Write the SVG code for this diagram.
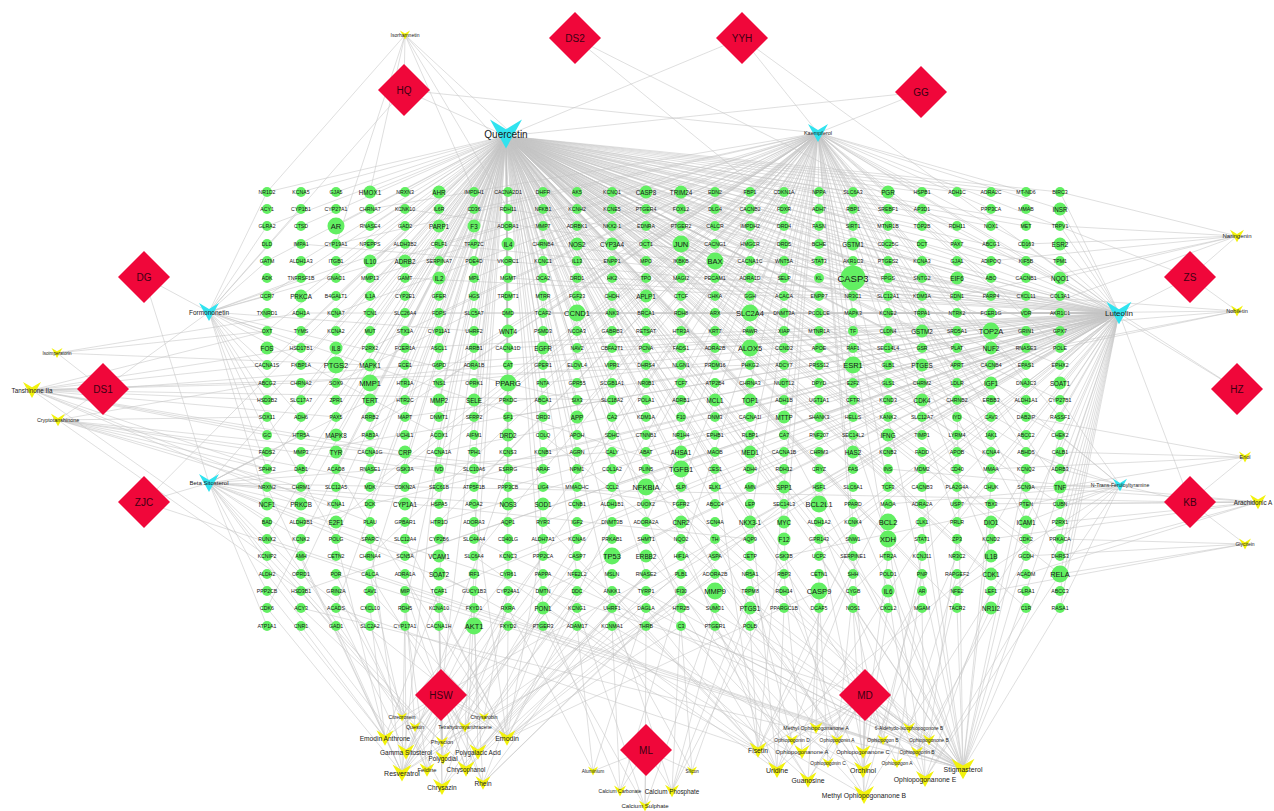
<svg xmlns="http://www.w3.org/2000/svg" xmlns:xlink="http://www.w3.org/1999/xlink" width="1274" height="811" viewBox="0 0 1274 811">
<style>
text{font-family:"Liberation Sans",Arial,sans-serif;text-anchor:middle;dominant-baseline:central}
.gn circle{fill:#62ef62}
.gn text{font-size:5.2px;fill:#161616}
.gn .m text{font-size:6.3px}
.gn .l text{font-size:7.5px}
.gn .xl text{font-size:9.5px}
.cy{fill:#30e3ef}
.yw{fill:#f2f20c}
.cy text,.yw text{fill:#1a1a1a}
.hb{fill:#f0073a}
.hb text{fill:#3d0012;font-size:10px}
.e{stroke:#c4c4c4;stroke-width:.55;fill:none}
</style>
<defs>
<path id="v" d="M-10 -9L0 -3L10 -9L0 9Z"/>
<polygon id="dm" points="0,-26 26,0 0,26 -26,0"/>
</defs>
<rect width="1274" height="811" fill="#ffffff"/>
<g id="connectors">
<path class="e" d="M506 136L267 192M506 136L336 192M506 136L405 192M506 136L474 192M506 136L543 192M506 136L612 192M506 136L681 192M506 136L750 192M506 136L819 192M506 136L888 192M506 136L957 192M506 136L1026 192M506 136L267 261M506 136L336 261M506 136L405 261M506 136L474 261M506 136L543 261M506 136L612 261M506 136L681 261M506 136L750 261M506 136L819 261M506 136L888 261M506 136L957 261M506 136L1026 261M506 136L267 331M506 136L336 331M506 136L405 331M506 136L474 331M506 136L543 331M506 136L612 331M506 136L681 331M506 136L750 331M506 136L819 331M506 136L888 331M506 136L957 331M506 136L1026 331M506 136L267 400M506 136L336 400M506 136L405 400M506 136L474 400M506 136L543 400M506 136L612 400M506 136L681 400M506 136L750 400M506 136L819 400M506 136L888 400M506 136L957 400M506 136L1026 400M506 136L267 469M506 136L336 469M506 136L405 469M506 136L474 469M506 136L543 469M506 136L612 469M506 136L681 469M506 136L750 469M506 136L819 469M506 136L888 469M506 136L957 469M506 136L1026 469M506 136L267 539M506 136L336 539M506 136L405 539M506 136L474 539M506 136L543 539M506 136L612 539M506 136L681 539M506 136L750 539M506 136L819 539M506 136L888 539M506 136L957 539M506 136L1026 539M506 136L267 608M506 136L336 608M506 136L405 608M506 136L474 608M506 136L543 608M506 136L612 608M506 136L681 608M506 136L750 608M506 136L819 608M506 136L888 608M506 136L957 608M506 136L1026 608"/>
<path class="e" d="M506 136L301 226M506 136L370 226M506 136L439 226M506 136L508 226M506 136L577 226M506 136L646 226M506 136L715 226M506 136L784 226M506 136L853 226M506 136L922 226M506 136L991 226M506 136L1060 226M506 136L301 296M506 136L370 296M506 136L439 296M506 136L508 296M506 136L577 296M506 136L646 296M506 136L715 296M506 136L784 296M506 136L853 296M506 136L922 296M506 136L991 296M506 136L1060 296M506 136L301 365M506 136L370 365M506 136L439 365M506 136L508 365M506 136L577 365M506 136L646 365M506 136L715 365M506 136L784 365M506 136L853 365M506 136L922 365M506 136L991 365M506 136L1060 365M506 136L301 435M506 136L370 435M506 136L439 435M506 136L508 435M506 136L577 435M506 136L646 435M506 136L715 435M506 136L784 435M506 136L853 435M506 136L922 435M506 136L991 435M506 136L1060 435M506 136L301 504M506 136L370 504M506 136L439 504M506 136L508 504M506 136L577 504M506 136L646 504M506 136L715 504M506 136L784 504M506 136L853 504M506 136L922 504M506 136L991 504M506 136L1060 504M506 136L301 574M506 136L370 574M506 136L439 574M506 136L508 574M506 136L577 574M506 136L646 574M506 136L715 574M506 136L784 574M506 136L853 574M506 136L922 574M506 136L991 574M506 136L1060 574"/>
<path class="e" d="M506 136L301 192M506 136L370 192M506 136L439 192M506 136L508 192M506 136L577 192M506 136L646 192M506 136L715 192M506 136L784 192M506 136L853 192M506 136L922 192M506 136L991 192M506 136L1060 192M506 136L301 261M506 136L370 261M506 136L439 261M506 136L508 261M506 136L577 261M506 136L646 261M506 136L715 261M506 136L784 261M506 136L853 261M506 136L922 261M506 136L991 261M506 136L1060 261M506 136L301 331M506 136L370 331M506 136L439 331M506 136L508 331M506 136L577 331M506 136L646 331M506 136L715 331M506 136L784 331M506 136L853 331M506 136L922 331M506 136L991 331M506 136L1060 331M506 136L301 400M506 136L370 400M506 136L439 400M506 136L508 400M506 136L577 400M506 136L646 400M506 136L715 400M506 136L784 400M506 136L853 400M506 136L922 400M506 136L991 400M506 136L1060 400M506 136L301 469M506 136L370 469M506 136L439 469M506 136L508 469M506 136L577 469M506 136L646 469M506 136L715 469M506 136L784 469M506 136L853 469M506 136L922 469M506 136L991 469M506 136L1060 469M506 136L267 226M506 136L336 226M506 136L405 226M506 136L474 226M506 136L543 226M506 136L612 226M506 136L681 226M506 136L750 226M506 136L819 226M506 136L888 226M506 136L957 226M506 136L1026 226M506 136L267 296M506 136L336 296M506 136L405 296M506 136L474 296M506 136L543 296M506 136L612 296M506 136L681 296M506 136L750 296M506 136L819 296M506 136L888 296M506 136L957 296M506 136L1026 296M506 136L267 365M506 136L336 365M506 136L405 365M506 136L474 365M506 136L543 365M506 136L612 365M506 136L681 365M506 136L750 365M506 136L819 365M506 136L888 365M506 136L957 365M506 136L1026 365M506 136L267 435M506 136L336 435M506 136L405 435M506 136L474 435M506 136L543 435M506 136L612 435M506 136L681 435M506 136L750 435M506 136L819 435M506 136L888 435M506 136L957 435M506 136L1026 435"/>
<path class="e" d="M818 133L370 209M818 133L474 209M818 133L577 209M818 133L681 209M818 133L784 209M818 133L888 209M818 133L991 209M818 133L1060 209M818 133L370 278M818 133L474 278M818 133L577 278M818 133L681 278M818 133L784 278M818 133L888 278M818 133L991 278M818 133L1060 278M818 133L370 348M818 133L474 348M818 133L577 348M818 133L681 348M818 133L784 348M818 133L888 348M818 133L991 348M818 133L1060 348M818 133L370 417M818 133L474 417M818 133L577 417M818 133L681 417M818 133L784 417M818 133L888 417M818 133L991 417M818 133L1060 417M818 133L370 487M818 133L474 487M818 133L577 487M818 133L681 487M818 133L784 487M818 133L888 487M818 133L991 487M818 133L1060 487M818 133L370 556M818 133L474 556M818 133L577 556M818 133L681 556M818 133L784 556M818 133L888 556M818 133L991 556M818 133L1060 556M818 133L750 192M818 133L853 192M818 133L922 192M818 133L1026 192M818 133L715 226M818 133L819 244M818 133L957 244"/>
<path class="e" d="M818 133L336 244M818 133L439 244M818 133L543 244M818 133L646 244M818 133L750 244M818 133L853 244M818 133L1026 244M818 133L336 313M818 133L439 313M818 133L543 313M818 133L646 313M818 133L750 313M818 133L853 313M818 133L957 313M818 133L1026 313M818 133L336 383M818 133L439 383M818 133L543 383M818 133L646 383M818 133L750 383M818 133L853 383M818 133L957 383M818 133L1026 383M818 133L336 452M818 133L439 452M818 133L543 452M818 133L646 452M818 133L750 452M818 133L853 452M818 133L957 452M818 133L1026 452M818 133L336 522M818 133L439 522M818 133L543 522M818 133L646 522M818 133L750 522M818 133L853 522M818 133L957 522M818 133L1026 522"/>
<path class="e" d="M1119 313L1060 192M1119 313L1060 209M1119 313L1060 226M1119 313L1060 244M1119 313L1060 261M1119 313L1060 278M1119 313L1060 296M1119 313L1060 313M1119 313L1060 331M1119 313L1060 348M1119 313L1060 365M1119 313L1060 383M1119 313L1060 400M1119 313L1060 417M1119 313L1060 435M1119 313L1060 452M1119 313L1060 469M1119 313L1060 487M1119 313L1060 504M1119 313L1060 522M1119 313L1060 539M1119 313L1060 556M1119 313L1060 574M1119 313L1060 591M1119 313L1060 608M1119 313L301 244M1119 313L439 244M1119 313L543 244M1119 313L646 244M1119 313L750 244M1119 313L853 244M1119 313L957 244M1119 313L1026 244M1119 313L301 313M1119 313L439 313M1119 313L543 313M1119 313L646 313M1119 313L750 313M1119 313L853 313M1119 313L957 313M1119 313L1026 313M1119 313L301 383M1119 313L439 383M1119 313L543 383M1119 313L646 383M1119 313L750 383M1119 313L853 383M1119 313L957 383M1119 313L1026 383M1119 313L301 452M1119 313L439 452M1119 313L543 452M1119 313L646 452M1119 313L750 452M1119 313L853 452M1119 313L957 452M1119 313L1026 452M1119 313L301 522M1119 313L439 522M1119 313L543 522M1119 313L646 522M1119 313L750 522M1119 313L853 522M1119 313L957 522M1119 313L1026 522M1119 313L301 591M1119 313L439 591M1119 313L543 591M1119 313L646 591M1119 313L750 591M1119 313L853 591M1119 313L957 591M1119 313L1026 591"/>
<path class="e" d="M1119 313L405 209M1119 313L508 209M1119 313L612 209M1119 313L715 209M1119 313L819 209M1119 313L922 209M1119 313L405 278M1119 313L508 278M1119 313L612 278M1119 313L715 278M1119 313L819 278M1119 313L922 278M1119 313L405 348M1119 313L508 348M1119 313L612 348M1119 313L715 348M1119 313L819 348M1119 313L922 348M1119 313L405 417M1119 313L508 417M1119 313L612 417M1119 313L715 417M1119 313L819 417M1119 313L922 417M1119 313L405 487M1119 313L508 487M1119 313L612 487M1119 313L715 487M1119 313L819 487M1119 313L922 487M1119 313L405 556M1119 313L508 556M1119 313L612 556M1119 313L715 556M1119 313L819 556M1119 313L922 556"/>
<path class="e" d="M209 312L267 192M209 312L267 226M209 312L267 261M209 312L267 296M209 312L267 331M209 312L267 365M209 312L267 400M209 312L267 435M209 312L267 469M209 312L267 504M209 312L301 209M209 312L301 278M209 312L301 348M209 312L301 417M209 312L405 244M209 312L474 331M209 312L577 400M209 312L681 469M209 312L336 539M209 312L439 435M209 312L508 226"/>
<path class="e" d="M209 483L267 417M209 483L267 452M209 483L267 487M209 483L267 522M209 483L267 556M209 483L267 591M209 483L267 626M209 483L301 435M209 483L301 469M209 483L301 504M209 483L301 539M209 483L301 574M209 483L301 608M209 483L405 556M209 483L508 504M209 483L612 452M209 483L370 400M209 483L474 591M209 483L750 539M209 483L336 626"/>
<path class="e" d="M1120 485L1060 400M1120 485L1060 435M1120 485L1060 469M1120 485L1060 504M1120 485L1060 539M1120 485L1060 574M1120 485L1060 608M1120 485L1026 452M1120 485L1026 487M1120 485L1026 522M1120 485L888 504M1120 485L784 556M1120 485L957 591"/>
<path class="e" d="M32 390L267 331M32 390L267 365M32 390L267 400M32 390L301 348M32 390L301 383M32 390L267 435M32 390L336 417M32 390L405 452M32 390L474 469M32 390L612 400M32 390L750 365M32 390L267 469M32 390L301 504M32 390L370 522M32 390L267 556M58 420L267 452M58 420L267 469M58 420L301 487M58 420L336 504M58 420L267 417M58 420L405 487M58 420L543 469M58 420L681 504M58 420L267 383M58 420L301 591M57 353L267 331M57 353L370 365M57 353L301 313M405 35L267 192M405 35L370 192M405 35L474 192M405 35L508 209M405 35L543 192M405 35L612 226M405 35L336 244"/>
<path class="e" d="M1237 236L1060 192M1237 236L1060 226M1237 236L1026 244M1237 236L991 261M1237 236L1060 278M1237 236L957 296M1237 236L1026 313M1237 311L1060 313M1237 311L1060 348M1237 311L1026 296M1237 311L991 331M1237 311L957 365M1245 457L1060 452M1245 457L1060 487M1245 457L1026 417M1245 457L991 469M1258 502L1060 504M1258 502L1060 522M1258 502L1026 487M1258 502L991 539M1258 502L957 504M1258 502L1060 556M1258 502L1026 574M1258 502L888 469M1245 544L1060 539M1245 544L1060 574M1245 544L1026 556M1245 544L991 591"/>
<path class="e" d="M963 769L957 608M963 769L1026 591M963 769L888 574M963 769L819 556M963 769L1060 539M963 769L750 608M963 769L681 591M963 769L612 574M963 769L991 487M963 769L853 504M963 769L922 522M963 769L715 522M963 769L1026 469M963 769L543 556M963 769L784 435M963 769L646 469M963 769L888 417M963 769L957 400M963 769L1060 435M963 769L474 539M963 769L405 591M963 769L301 608M963 769L336 574M963 769L267 539M963 769L1060 608M963 769L750 626M963 769L681 626M963 769L991 522M963 769L1026 504M963 769L922 469M963 769L853 435M963 769L819 487M963 769L715 400M963 769L612 452M963 769L543 435M864 795L853 608M864 795L750 591M864 795L922 574M864 795L646 556M864 795L1026 539M864 795L543 608M863 770L888 608M863 770L784 591M863 770L715 574M863 770L957 556M863 770L612 626M863 770L681 522M777 770L784 608M777 770L681 608M777 770L612 591M777 770L853 574M777 770L474 556M777 770L750 504M777 770L681 539M777 770L543 522M777 770L922 539M808 780L819 608M808 780L715 626M808 780L577 574M808 780L922 591M808 780L646 539M758 750L750 626M758 750L646 608M758 750L543 591M758 750L439 574M758 750L853 539M758 750L715 469M758 750L336 608M758 750L991 556M758 750L784 487M758 750L888 504M925 779L922 608M925 779L1060 574M925 779L991 591M925 779L888 539M925 779L819 522M925 779L1026 608M816 728L819 574M816 728L715 591M909 728L888 591M909 728L957 574M792 740L750 574M792 740L681 556M837 740L853 591M837 740L784 556M883 740L922 556M883 740L853 608M929 740L991 608M929 740L957 539M802 752L784 574M802 752L646 591M863 752L888 556M863 752L819 539M917 752L957 591M917 752L1026 556M828 763L819 591M897 763L922 574"/>
<path class="e" d="M507 738L508 626M507 738L577 608M507 738L646 591M507 738L439 608M507 738L715 574M507 738L543 539M507 738L612 522M507 738L370 591M507 738L301 574M507 738L784 504M507 738L681 626M507 738L405 539M507 738L474 504M507 738L819 591M507 738L336 469M402 773L405 608M402 773L336 626M402 773L267 608M402 773L474 626M402 773L543 574M402 773L301 556M402 773L612 539M402 773L681 574M402 773L750 556M402 773L370 539M402 773L267 487M402 773L439 435M402 773L508 469M402 773L577 504M442 787L439 626M442 787L508 608M442 787L577 591M442 787L336 591M442 787L646 574M483 783L474 626M483 783L543 626M483 783L612 608M483 783L681 591M483 783L405 574M483 783L715 556M385 738L370 608M385 738L267 591M385 738L301 626M385 738L439 591M385 738L508 574M385 738L336 539M406 752L405 626M406 752L267 574M406 752L336 608M406 752L474 608M406 752L543 591M478 752L474 591M478 752L577 626M478 752L612 591M478 752L370 574M478 752L681 539M443 758L439 608M443 758L508 591M443 758L301 591M443 758L577 556M466 769L474 608M466 769L543 608M466 769L405 591M466 769L646 574M466 769L715 539M466 769L267 556M427 770L405 608M427 770L370 626M427 770L508 626M427 770L336 574M442 742L439 591M442 742L577 574M442 742L301 608M442 742L681 608M415 727L405 591M415 727L543 556M402 717L370 574M402 717L267 522M484 717L508 591M484 717L612 556M465 727L474 574M465 727L577 539"/>
<path class="e" d="M593 771L577 626M593 771L508 608M593 771L646 608M692 771L681 626M692 771L750 608M692 771L612 626M620 791L612 626M620 791L543 608M620 791L681 591M672 791L681 608M672 791L715 626M672 791L750 591M672 791L612 608M672 791L784 574M645 807L646 626M645 807L577 608M645 807L715 608M645 807L543 626"/>
<path class="e" d="M404 90L506 136M404 90L818 133M404 90L405 35M404 90L209 312M575 38L1119 313M575 38L1120 485M742 38L506 136M742 38L818 133M742 38L1119 313M921 92L818 133M921 92L506 136M144 277L209 483M144 277L209 312M103 389L32 390M103 389L58 420M103 389L57 353M103 389L1119 313M103 389L209 312M144 502L209 483M144 502L506 136M144 502L963 769M1190 277L1237 236M1190 277L1237 311M1190 277L1119 313M1190 277L818 133M1237 389L1119 313M1237 389L818 133M1190 502L1120 485M1190 502L1245 457M1190 502L1258 502M1190 502L1245 544M1190 502L1119 313M1190 502L209 483"/>
<path class="e" d="M441 695L402 717M441 695L484 717M441 695L415 727M441 695L465 727M441 695L385 738M441 695L442 742M441 695L507 738M441 695L406 752M441 695L478 752M441 695L443 758M441 695L402 773M441 695L427 770M441 695L466 769M441 695L442 787M441 695L483 783M441 695L506 136M441 695L1119 313M646 750L593 771M646 750L692 771M646 750L620 791M646 750L672 791M646 750L645 807M865 695L816 728M865 695L909 728M865 695L792 740M865 695L837 740M865 695L883 740M865 695L929 740M865 695L758 750M865 695L802 752M865 695L863 752M865 695L917 752M865 695L828 763M865 695L897 763M865 695L777 770M865 695L863 770M865 695L963 769M865 695L808 780M865 695L925 779M865 695L864 795M865 695L506 136M865 695L818 133M865 695L209 483"/>
</g>
<g id="genes" class="gn">
<g id="r0c0" transform="translate(267 192)"><circle r="5"/><text>NR1D2</text></g>
<g id="r0c1" transform="translate(301 192)"><circle r="5"/><text>KCNA5</text></g>
<g id="r0c2" transform="translate(336 192)"><circle r="5"/><text>GJA5</text></g>
<g id="r0c3" class="m" transform="translate(370 192)"><circle r="6.5"/><text>HMOX1</text></g>
<g id="r0c4" transform="translate(405 192)"><circle r="5"/><text>NRXN3</text></g>
<g id="r0c5" class="m" transform="translate(439 192)"><circle r="6.5"/><text>AHR</text></g>
<g id="r0c6" transform="translate(474 192)"><circle r="5"/><text>IMPDH1</text></g>
<g id="r0c7" transform="translate(508 192)"><circle r="5"/><text>CACNA2D1</text></g>
<g id="r0c8" transform="translate(543 192)"><circle r="5"/><text>DHFR</text></g>
<g id="r0c9" transform="translate(577 192)"><circle r="5"/><text>AK5</text></g>
<g id="r0c10" transform="translate(612 192)"><circle r="5"/><text>KCNQ1</text></g>
<g id="r0c11" class="m" transform="translate(646 192)"><circle r="6.5"/><text>CASP8</text></g>
<g id="r0c12" class="m" transform="translate(681 192)"><circle r="6.5"/><text>TRIM24</text></g>
<g id="r0c13" transform="translate(715 192)"><circle r="5"/><text>EDN2</text></g>
<g id="r0c14" transform="translate(750 192)"><circle r="5"/><text>FBP1</text></g>
<g id="r0c15" transform="translate(784 192)"><circle r="5"/><text>CDKN1A</text></g>
<g id="r0c16" transform="translate(819 192)"><circle r="5"/><text>NPPA</text></g>
<g id="r0c17" transform="translate(853 192)"><circle r="5"/><text>SLC6A3</text></g>
<g id="r0c18" class="m" transform="translate(888 192)"><circle r="6.5"/><text>PGR</text></g>
<g id="r0c19" transform="translate(922 192)"><circle r="5"/><text>HSPB1</text></g>
<g id="r0c20" transform="translate(957 192)"><circle r="5"/><text>ADH1C</text></g>
<g id="r0c21" transform="translate(991 192)"><circle r="5"/><text>ADRA2C</text></g>
<g id="r0c22" transform="translate(1026 192)"><circle r="5"/><text>MT-ND6</text></g>
<g id="r0c23" transform="translate(1060 192)"><circle r="5"/><text>BIRC3</text></g>
<g id="r1c0" transform="translate(267 209)"><circle r="5"/><text>ACY1</text></g>
<g id="r1c1" transform="translate(301 209)"><circle r="5"/><text>CYP1B1</text></g>
<g id="r1c2" transform="translate(336 209)"><circle r="5"/><text>CYP27A1</text></g>
<g id="r1c3" transform="translate(370 209)"><circle r="5"/><text>CHRNA7</text></g>
<g id="r1c4" transform="translate(405 209)"><circle r="5"/><text>KCNK10</text></g>
<g id="r1c5" transform="translate(439 209)"><circle r="5"/><text>IL6R</text></g>
<g id="r1c6" transform="translate(474 209)"><circle r="5"/><text>CD36</text></g>
<g id="r1c7" transform="translate(508 209)"><circle r="5"/><text>RDH11</text></g>
<g id="r1c8" transform="translate(543 209)"><circle r="5"/><text>NFKB1</text></g>
<g id="r1c9" transform="translate(577 209)"><circle r="5"/><text>KCNH2</text></g>
<g id="r1c10" transform="translate(612 209)"><circle r="5"/><text>KCNE5</text></g>
<g id="r1c11" transform="translate(646 209)"><circle r="5"/><text>PTGER4</text></g>
<g id="r1c12" transform="translate(681 209)"><circle r="5"/><text>FOXL2</text></g>
<g id="r1c13" transform="translate(715 209)"><circle r="5"/><text>DLG4</text></g>
<g id="r1c14" transform="translate(750 209)"><circle r="5"/><text>CACNB2</text></g>
<g id="r1c15" transform="translate(784 209)"><circle r="5"/><text>FDXR</text></g>
<g id="r1c16" transform="translate(819 209)"><circle r="5"/><text>ADH7</text></g>
<g id="r1c17" transform="translate(853 209)"><circle r="5"/><text>RBP1</text></g>
<g id="r1c18" transform="translate(888 209)"><circle r="5"/><text>SREBF1</text></g>
<g id="r1c19" transform="translate(922 209)"><circle r="5"/><text>AP3D1</text></g>
<g id="r1c21" transform="translate(991 209)"><circle r="5"/><text>PPP3CA</text></g>
<g id="r1c22" transform="translate(1026 209)"><circle r="5"/><text>MMAB</text></g>
<g id="r1c23" class="m" transform="translate(1060 209)"><circle r="6.5"/><text>INSR</text></g>
<g id="r2c0" transform="translate(267 226)"><circle r="5"/><text>GLRA2</text></g>
<g id="r2c1" transform="translate(301 226)"><circle r="5"/><text>CTSD</text></g>
<g id="r2c2" class="l" transform="translate(336 226)"><circle r="8.5"/><text>AR</text></g>
<g id="r2c3" transform="translate(370 226)"><circle r="5"/><text>RNASE4</text></g>
<g id="r2c4" transform="translate(405 226)"><circle r="5"/><text>GAD2</text></g>
<g id="r2c5" class="m" transform="translate(439 226)"><circle r="6.5"/><text>PARP1</text></g>
<g id="r2c6" class="m" transform="translate(474 226)"><circle r="6.5"/><text>F3</text></g>
<g id="r2c7" transform="translate(508 226)"><circle r="5"/><text>ADORA1</text></g>
<g id="r2c8" transform="translate(543 226)"><circle r="5"/><text>MMP7</text></g>
<g id="r2c9" transform="translate(577 226)"><circle r="5"/><text>ADRBK1</text></g>
<g id="r2c10" transform="translate(612 226)"><circle r="5"/><text>NKX2-1</text></g>
<g id="r2c11" transform="translate(646 226)"><circle r="5"/><text>EDNRA</text></g>
<g id="r2c12" transform="translate(681 226)"><circle r="5"/><text>PTGER2</text></g>
<g id="r2c13" transform="translate(715 226)"><circle r="5"/><text>CALCR</text></g>
<g id="r2c14" transform="translate(750 226)"><circle r="5"/><text>IMPDH2</text></g>
<g id="r2c15" transform="translate(784 226)"><circle r="5"/><text>DRD4</text></g>
<g id="r2c16" transform="translate(819 226)"><circle r="5"/><text>FASN</text></g>
<g id="r2c17" transform="translate(853 226)"><circle r="5"/><text>SIRT1</text></g>
<g id="r2c18" transform="translate(888 226)"><circle r="5"/><text>MTNR1B</text></g>
<g id="r2c19" transform="translate(922 226)"><circle r="5"/><text>TOP2B</text></g>
<g id="r2c20" transform="translate(957 226)"><circle r="5"/><text>RDH11</text></g>
<g id="r2c21" transform="translate(991 226)"><circle r="5"/><text>NOX1</text></g>
<g id="r2c22" transform="translate(1026 226)"><circle r="5"/><text>MET</text></g>
<g id="r2c23" transform="translate(1060 226)"><circle r="5"/><text>TRPV1</text></g>
<g id="r3c0" transform="translate(267 244)"><circle r="5"/><text>DLD</text></g>
<g id="r3c1" transform="translate(301 244)"><circle r="5"/><text>IMPA1</text></g>
<g id="r3c2" transform="translate(336 244)"><circle r="5"/><text>CYP19A1</text></g>
<g id="r3c3" transform="translate(370 244)"><circle r="5"/><text>NPEPPS</text></g>
<g id="r3c4" transform="translate(405 244)"><circle r="5"/><text>ALDH3B2</text></g>
<g id="r3c5" transform="translate(439 244)"><circle r="5"/><text>CRLF1</text></g>
<g id="r3c6" transform="translate(474 244)"><circle r="5"/><text>TFAP2C</text></g>
<g id="r3c7" class="m" transform="translate(508 244)"><circle r="6.5"/><text>IL4</text></g>
<g id="r3c8" transform="translate(543 244)"><circle r="5"/><text>CHRNB4</text></g>
<g id="r3c9" class="m" transform="translate(577 244)"><circle r="6.5"/><text>NOS2</text></g>
<g id="r3c10" class="m" transform="translate(612 244)"><circle r="6.5"/><text>CYP3A4</text></g>
<g id="r3c11" transform="translate(646 244)"><circle r="5"/><text>OCT1</text></g>
<g id="r3c12" class="l" transform="translate(681 244)"><circle r="8.5"/><text>JUN</text></g>
<g id="r3c13" transform="translate(715 244)"><circle r="5"/><text>CACNG1</text></g>
<g id="r3c14" transform="translate(750 244)"><circle r="5"/><text>HMGCR</text></g>
<g id="r3c15" transform="translate(784 244)"><circle r="5"/><text>DRD5</text></g>
<g id="r3c16" transform="translate(819 244)"><circle r="5"/><text>BCHE</text></g>
<g id="r3c17" class="m" transform="translate(853 244)"><circle r="6.5"/><text>GSTM1</text></g>
<g id="r3c18" transform="translate(888 244)"><circle r="5"/><text>CDC25C</text></g>
<g id="r3c19" transform="translate(922 244)"><circle r="5"/><text>DCT</text></g>
<g id="r3c20" transform="translate(957 244)"><circle r="5"/><text>PAX7</text></g>
<g id="r3c21" transform="translate(991 244)"><circle r="5"/><text>ABCG1</text></g>
<g id="r3c22" transform="translate(1026 244)"><circle r="5"/><text>CD163</text></g>
<g id="r3c23" class="m" transform="translate(1060 244)"><circle r="6.5"/><text>ESR2</text></g>
<g id="r4c0" transform="translate(267 261)"><circle r="5"/><text>GATM</text></g>
<g id="r4c1" transform="translate(301 261)"><circle r="5"/><text>ALDH1A3</text></g>
<g id="r4c2" transform="translate(336 261)"><circle r="5"/><text>ITGB1</text></g>
<g id="r4c3" class="m" transform="translate(370 261)"><circle r="6.5"/><text>IL10</text></g>
<g id="r4c4" class="m" transform="translate(405 261)"><circle r="6.5"/><text>ADRB2</text></g>
<g id="r4c5" transform="translate(439 261)"><circle r="5"/><text>SERPINA7</text></g>
<g id="r4c6" transform="translate(474 261)"><circle r="5"/><text>PDE4D</text></g>
<g id="r4c7" transform="translate(508 261)"><circle r="5"/><text>VKORC1</text></g>
<g id="r4c8" transform="translate(543 261)"><circle r="5"/><text>KCNC1</text></g>
<g id="r4c9" transform="translate(577 261)"><circle r="5"/><text>IL13</text></g>
<g id="r4c10" transform="translate(612 261)"><circle r="5"/><text>ENPP1</text></g>
<g id="r4c11" transform="translate(646 261)"><circle r="5"/><text>MPO</text></g>
<g id="r4c12" transform="translate(681 261)"><circle r="5"/><text>IKBKB</text></g>
<g id="r4c13" class="l" transform="translate(715 261)"><circle r="8.5"/><text>BAX</text></g>
<g id="r4c14" transform="translate(750 261)"><circle r="5"/><text>CACNA1C</text></g>
<g id="r4c15" transform="translate(784 261)"><circle r="5"/><text>WNT5A</text></g>
<g id="r4c16" transform="translate(819 261)"><circle r="5"/><text>STAT3</text></g>
<g id="r4c17" transform="translate(853 261)"><circle r="5"/><text>AKR1C3</text></g>
<g id="r4c18" transform="translate(888 261)"><circle r="5"/><text>PTGES2</text></g>
<g id="r4c19" transform="translate(922 261)"><circle r="5"/><text>KCNA3</text></g>
<g id="r4c20" transform="translate(957 261)"><circle r="5"/><text>GJA1</text></g>
<g id="r4c21" transform="translate(991 261)"><circle r="5"/><text>ADIPOQ</text></g>
<g id="r4c22" transform="translate(1026 261)"><circle r="5"/><text>KIF5B</text></g>
<g id="r4c23" transform="translate(1060 261)"><circle r="5"/><text>TPM1</text></g>
<g id="r5c0" transform="translate(267 278)"><circle r="5"/><text>ADK</text></g>
<g id="r5c1" transform="translate(301 278)"><circle r="5"/><text>TNFRSF1B</text></g>
<g id="r5c2" transform="translate(336 278)"><circle r="5"/><text>GNAO1</text></g>
<g id="r5c3" transform="translate(370 278)"><circle r="5"/><text>MMP13</text></g>
<g id="r5c4" transform="translate(405 278)"><circle r="5"/><text>GAMT</text></g>
<g id="r5c5" class="m" transform="translate(439 278)"><circle r="6.5"/><text>IL2</text></g>
<g id="r5c6" transform="translate(474 278)"><circle r="5"/><text>MPL</text></g>
<g id="r5c7" transform="translate(508 278)"><circle r="5"/><text>MGMT</text></g>
<g id="r5c8" transform="translate(543 278)"><circle r="5"/><text>OCA2</text></g>
<g id="r5c9" transform="translate(577 278)"><circle r="5"/><text>DRD1</text></g>
<g id="r5c10" transform="translate(612 278)"><circle r="5"/><text>HK2</text></g>
<g id="r5c11" transform="translate(646 278)"><circle r="5"/><text>TPO</text></g>
<g id="r5c12" transform="translate(681 278)"><circle r="5"/><text>MAGI2</text></g>
<g id="r5c13" transform="translate(715 278)"><circle r="5"/><text>PECAM1</text></g>
<g id="r5c14" transform="translate(750 278)"><circle r="5"/><text>ADRA1D</text></g>
<g id="r5c15" transform="translate(784 278)"><circle r="5"/><text>SELP</text></g>
<g id="r5c16" transform="translate(819 278)"><circle r="5"/><text>KL</text></g>
<g id="r5c17" class="xl" transform="translate(853 278)"><circle r="12.5"/><text>CASP3</text></g>
<g id="r5c18" transform="translate(888 278)"><circle r="5"/><text>FPGS</text></g>
<g id="r5c19" transform="translate(922 278)"><circle r="5"/><text>SNTG2</text></g>
<g id="r5c20" class="m" transform="translate(957 278)"><circle r="6.5"/><text>EIF6</text></g>
<g id="r5c21" transform="translate(991 278)"><circle r="5"/><text>ABO</text></g>
<g id="r5c22" transform="translate(1026 278)"><circle r="5"/><text>CACNB1</text></g>
<g id="r5c23" class="m" transform="translate(1060 278)"><circle r="6.5"/><text>NQO1</text></g>
<g id="r6c0" transform="translate(267 296)"><circle r="5"/><text>CCR7</text></g>
<g id="r6c1" class="m" transform="translate(301 296)"><circle r="6.5"/><text>PRKCA</text></g>
<g id="r6c2" transform="translate(336 296)"><circle r="5"/><text>B4GALT1</text></g>
<g id="r6c3" transform="translate(370 296)"><circle r="5"/><text>IL1A</text></g>
<g id="r6c4" transform="translate(405 296)"><circle r="5"/><text>CYP2E1</text></g>
<g id="r6c5" transform="translate(439 296)"><circle r="5"/><text>GFER</text></g>
<g id="r6c6" transform="translate(474 296)"><circle r="5"/><text>HGS</text></g>
<g id="r6c7" transform="translate(508 296)"><circle r="5"/><text>TRDMT1</text></g>
<g id="r6c8" transform="translate(543 296)"><circle r="5"/><text>MTRR</text></g>
<g id="r6c9" transform="translate(577 296)"><circle r="5"/><text>FGF23</text></g>
<g id="r6c10" transform="translate(612 296)"><circle r="5"/><text>CHDH</text></g>
<g id="r6c11" class="m" transform="translate(646 296)"><circle r="6.5"/><text>APLP1</text></g>
<g id="r6c12" transform="translate(681 296)"><circle r="5"/><text>CTCF</text></g>
<g id="r6c13" transform="translate(715 296)"><circle r="5"/><text>CHKA</text></g>
<g id="r6c14" transform="translate(750 296)"><circle r="5"/><text>GGH</text></g>
<g id="r6c15" transform="translate(784 296)"><circle r="5"/><text>ACACA</text></g>
<g id="r6c16" transform="translate(819 296)"><circle r="5"/><text>ENPP7</text></g>
<g id="r6c17" transform="translate(853 296)"><circle r="5"/><text>NR3C1</text></g>
<g id="r6c18" transform="translate(888 296)"><circle r="5"/><text>SLC12A1</text></g>
<g id="r6c19" transform="translate(922 296)"><circle r="5"/><text>KDM3A</text></g>
<g id="r6c20" transform="translate(957 296)"><circle r="5"/><text>EDN1</text></g>
<g id="r6c21" transform="translate(991 296)"><circle r="5"/><text>PARP4</text></g>
<g id="r6c22" transform="translate(1026 296)"><circle r="5"/><text>CXCL11</text></g>
<g id="r6c23" transform="translate(1060 296)"><circle r="5"/><text>COL3A1</text></g>
<g id="r7c0" transform="translate(267 313)"><circle r="5"/><text>TXNRD1</text></g>
<g id="r7c1" transform="translate(301 313)"><circle r="5"/><text>ADH1A</text></g>
<g id="r7c2" transform="translate(336 313)"><circle r="5"/><text>KCNA7</text></g>
<g id="r7c3" transform="translate(370 313)"><circle r="5"/><text>TCN1</text></g>
<g id="r7c4" transform="translate(405 313)"><circle r="5"/><text>SLC26A4</text></g>
<g id="r7c5" transform="translate(439 313)"><circle r="5"/><text>FDPS</text></g>
<g id="r7c6" transform="translate(474 313)"><circle r="5"/><text>SLC5A7</text></g>
<g id="r7c7" transform="translate(508 313)"><circle r="5"/><text>DMD</text></g>
<g id="r7c8" transform="translate(543 313)"><circle r="5"/><text>TCAF2</text></g>
<g id="r7c9" class="l" transform="translate(577 313)"><circle r="8.5"/><text>CCND1</text></g>
<g id="r7c10" transform="translate(612 313)"><circle r="5"/><text>ANK3</text></g>
<g id="r7c11" transform="translate(646 313)"><circle r="5"/><text>BRCA1</text></g>
<g id="r7c12" transform="translate(681 313)"><circle r="5"/><text>RDH8</text></g>
<g id="r7c13" transform="translate(715 313)"><circle r="5"/><text>ARX</text></g>
<g id="r7c14" class="l" transform="translate(750 313)"><circle r="8.5"/><text>SLC2A4</text></g>
<g id="r7c15" transform="translate(784 313)"><circle r="5"/><text>DNMT3A</text></g>
<g id="r7c16" transform="translate(819 313)"><circle r="5"/><text>PCOLCE</text></g>
<g id="r7c17" transform="translate(853 313)"><circle r="5"/><text>MAPK3</text></g>
<g id="r7c18" transform="translate(888 313)"><circle r="5"/><text>KCNE2</text></g>
<g id="r7c19" transform="translate(922 313)"><circle r="5"/><text>TRPA1</text></g>
<g id="r7c20" transform="translate(957 313)"><circle r="5"/><text>NTRK2</text></g>
<g id="r7c21" transform="translate(991 313)"><circle r="5"/><text>FCER1G</text></g>
<g id="r7c22" transform="translate(1026 313)"><circle r="5"/><text>VDR</text></g>
<g id="r7c23" transform="translate(1060 313)"><circle r="5"/><text>AKR1C1</text></g>
<g id="r8c0" transform="translate(267 331)"><circle r="5"/><text>OXT</text></g>
<g id="r8c1" transform="translate(301 331)"><circle r="5"/><text>TYMS</text></g>
<g id="r8c2" transform="translate(336 331)"><circle r="5"/><text>KCNA2</text></g>
<g id="r8c3" transform="translate(370 331)"><circle r="5"/><text>MUT</text></g>
<g id="r8c4" transform="translate(405 331)"><circle r="5"/><text>STX1A</text></g>
<g id="r8c5" transform="translate(439 331)"><circle r="5"/><text>CYP11A1</text></g>
<g id="r8c6" transform="translate(474 331)"><circle r="5"/><text>UHRF2</text></g>
<g id="r8c7" class="m" transform="translate(508 331)"><circle r="6.5"/><text>WNT4</text></g>
<g id="r8c8" transform="translate(543 331)"><circle r="5"/><text>PSMD3</text></g>
<g id="r8c9" transform="translate(577 331)"><circle r="5"/><text>NCOA3</text></g>
<g id="r8c10" transform="translate(612 331)"><circle r="5"/><text>GABRB3</text></g>
<g id="r8c11" transform="translate(646 331)"><circle r="5"/><text>RETSAT</text></g>
<g id="r8c12" transform="translate(681 331)"><circle r="5"/><text>HTR3A</text></g>
<g id="r8c13" transform="translate(715 331)"><circle r="5"/><text>KRT7</text></g>
<g id="r8c14" transform="translate(750 331)"><circle r="5"/><text>PAWR</text></g>
<g id="r8c15" transform="translate(784 331)"><circle r="5"/><text>XIAP</text></g>
<g id="r8c16" transform="translate(819 331)"><circle r="5"/><text>MTNR1A</text></g>
<g id="r8c17" transform="translate(853 331)"><circle r="5"/><text>TF</text></g>
<g id="r8c18" transform="translate(888 331)"><circle r="5"/><text>CLDN4</text></g>
<g id="r8c19" class="m" transform="translate(922 331)"><circle r="6.5"/><text>GSTM2</text></g>
<g id="r8c20" transform="translate(957 331)"><circle r="5"/><text>SRD5A1</text></g>
<g id="r8c21" class="l" transform="translate(991 331)"><circle r="8.5"/><text>TOP2A</text></g>
<g id="r8c22" transform="translate(1026 331)"><circle r="5"/><text>GRIN1</text></g>
<g id="r8c23" transform="translate(1060 331)"><circle r="5"/><text>GPX7</text></g>
<g id="r9c0" class="m" transform="translate(267 348)"><circle r="6.5"/><text>FOS</text></g>
<g id="r9c1" transform="translate(301 348)"><circle r="5"/><text>HSD17B1</text></g>
<g id="r9c2" class="m" transform="translate(336 348)"><circle r="6.5"/><text>IL8</text></g>
<g id="r9c3" transform="translate(370 348)"><circle r="5"/><text>P2RX2</text></g>
<g id="r9c4" transform="translate(405 348)"><circle r="5"/><text>FCER1A</text></g>
<g id="r9c5" transform="translate(439 348)"><circle r="5"/><text>ASCL1</text></g>
<g id="r9c6" transform="translate(474 348)"><circle r="5"/><text>ARRB1</text></g>
<g id="r9c7" transform="translate(508 348)"><circle r="5"/><text>CACNA1D</text></g>
<g id="r9c8" class="m" transform="translate(543 348)"><circle r="6.5"/><text>EGFR</text></g>
<g id="r9c9" transform="translate(577 348)"><circle r="5"/><text>NAV2</text></g>
<g id="r9c10" transform="translate(612 348)"><circle r="5"/><text>CBFA2T1</text></g>
<g id="r9c11" transform="translate(646 348)"><circle r="5"/><text>PCNA</text></g>
<g id="r9c12" transform="translate(681 348)"><circle r="5"/><text>FADS1</text></g>
<g id="r9c13" transform="translate(715 348)"><circle r="5"/><text>ADRA2B</text></g>
<g id="r9c14" class="l" transform="translate(750 348)"><circle r="8.5"/><text>ALOX5</text></g>
<g id="r9c15" transform="translate(784 348)"><circle r="5"/><text>CCND2</text></g>
<g id="r9c16" transform="translate(819 348)"><circle r="5"/><text>APOE</text></g>
<g id="r9c17" transform="translate(853 348)"><circle r="5"/><text>RAF1</text></g>
<g id="r9c18" transform="translate(888 348)"><circle r="5"/><text>SEC14L4</text></g>
<g id="r9c19" transform="translate(922 348)"><circle r="5"/><text>GSR</text></g>
<g id="r9c20" transform="translate(957 348)"><circle r="5"/><text>PLAT</text></g>
<g id="r9c21" class="m" transform="translate(991 348)"><circle r="6.5"/><text>NUF2</text></g>
<g id="r9c22" transform="translate(1026 348)"><circle r="5"/><text>RNASE3</text></g>
<g id="r9c23" transform="translate(1060 348)"><circle r="5"/><text>POLE</text></g>
<g id="r10c0" transform="translate(267 365)"><circle r="5"/><text>CACNA1S</text></g>
<g id="r10c1" transform="translate(301 365)"><circle r="5"/><text>FKBP1A</text></g>
<g id="r10c2" class="l" transform="translate(336 365)"><circle r="8.5"/><text>PTGS2</text></g>
<g id="r10c3" class="m" transform="translate(370 365)"><circle r="6.5"/><text>MAPK1</text></g>
<g id="r10c4" transform="translate(405 365)"><circle r="5"/><text>ECE1</text></g>
<g id="r10c5" transform="translate(439 365)"><circle r="5"/><text>G6PD</text></g>
<g id="r10c6" transform="translate(474 365)"><circle r="5"/><text>ADRA1B</text></g>
<g id="r10c7" transform="translate(508 365)"><circle r="5"/><text>CAT</text></g>
<g id="r10c8" transform="translate(543 365)"><circle r="5"/><text>GPER1</text></g>
<g id="r10c9" transform="translate(577 365)"><circle r="5"/><text>ELOVL4</text></g>
<g id="r10c10" transform="translate(612 365)"><circle r="5"/><text>VIPR1</text></g>
<g id="r10c11" transform="translate(646 365)"><circle r="5"/><text>DHRS4</text></g>
<g id="r10c12" transform="translate(681 365)"><circle r="5"/><text>NLGN1</text></g>
<g id="r10c13" transform="translate(715 365)"><circle r="5"/><text>PRDM16</text></g>
<g id="r10c14" transform="translate(750 365)"><circle r="5"/><text>PHKG2</text></g>
<g id="r10c15" transform="translate(784 365)"><circle r="5"/><text>ADCY7</text></g>
<g id="r10c16" transform="translate(819 365)"><circle r="5"/><text>PRSS12</text></g>
<g id="r10c17" class="l" transform="translate(853 365)"><circle r="8.5"/><text>ESR1</text></g>
<g id="r10c18" transform="translate(888 365)"><circle r="5"/><text>GLB1</text></g>
<g id="r10c19" class="m" transform="translate(922 365)"><circle r="6.5"/><text>PTGES</text></g>
<g id="r10c20" transform="translate(957 365)"><circle r="5"/><text>APRT</text></g>
<g id="r10c21" transform="translate(991 365)"><circle r="5"/><text>CACNB4</text></g>
<g id="r10c22" transform="translate(1026 365)"><circle r="5"/><text>EPAS1</text></g>
<g id="r10c23" transform="translate(1060 365)"><circle r="5"/><text>EPHX2</text></g>
<g id="r11c0" transform="translate(267 383)"><circle r="5"/><text>ABCG2</text></g>
<g id="r11c1" transform="translate(301 383)"><circle r="5"/><text>CHRNA2</text></g>
<g id="r11c2" transform="translate(336 383)"><circle r="5"/><text>SOX9</text></g>
<g id="r11c3" class="l" transform="translate(370 383)"><circle r="8.5"/><text>MMP1</text></g>
<g id="r11c4" transform="translate(405 383)"><circle r="5"/><text>HTR1A</text></g>
<g id="r11c5" transform="translate(439 383)"><circle r="5"/><text>TNS1</text></g>
<g id="r11c6" transform="translate(474 383)"><circle r="5"/><text>OPRK1</text></g>
<g id="r11c7" class="l" transform="translate(508 383)"><circle r="8.5"/><text>PPARG</text></g>
<g id="r11c8" transform="translate(543 383)"><circle r="5"/><text>FNTA</text></g>
<g id="r11c9" transform="translate(577 383)"><circle r="5"/><text>GPR55</text></g>
<g id="r11c10" transform="translate(612 383)"><circle r="5"/><text>SCGB1A1</text></g>
<g id="r11c11" transform="translate(646 383)"><circle r="5"/><text>NR0B1</text></g>
<g id="r11c12" transform="translate(681 383)"><circle r="5"/><text>TCF7</text></g>
<g id="r11c13" transform="translate(715 383)"><circle r="5"/><text>ATP2B4</text></g>
<g id="r11c14" transform="translate(750 383)"><circle r="5"/><text>CHRNA3</text></g>
<g id="r11c15" transform="translate(784 383)"><circle r="5"/><text>NUDT12</text></g>
<g id="r11c16" transform="translate(819 383)"><circle r="5"/><text>DPYD</text></g>
<g id="r11c17" transform="translate(853 383)"><circle r="5"/><text>E2F2</text></g>
<g id="r11c18" transform="translate(888 383)"><circle r="5"/><text>GLS1</text></g>
<g id="r11c19" transform="translate(922 383)"><circle r="5"/><text>CHRM2</text></g>
<g id="r11c20" transform="translate(957 383)"><circle r="5"/><text>LDLR</text></g>
<g id="r11c21" class="m" transform="translate(991 383)"><circle r="6.5"/><text>IGF1</text></g>
<g id="r11c22" transform="translate(1026 383)"><circle r="5"/><text>DNAJC3</text></g>
<g id="r11c23" class="m" transform="translate(1060 383)"><circle r="6.5"/><text>SOAT1</text></g>
<g id="r12c0" transform="translate(267 400)"><circle r="5"/><text>HSD3B2</text></g>
<g id="r12c1" transform="translate(301 400)"><circle r="5"/><text>SLC17A7</text></g>
<g id="r12c2" transform="translate(336 400)"><circle r="5"/><text>ZPR1</text></g>
<g id="r12c3" class="m" transform="translate(370 400)"><circle r="6.5"/><text>TERT</text></g>
<g id="r12c4" transform="translate(405 400)"><circle r="5"/><text>HTR2C</text></g>
<g id="r12c5" class="m" transform="translate(439 400)"><circle r="6.5"/><text>MMP2</text></g>
<g id="r12c6" class="m" transform="translate(474 400)"><circle r="6.5"/><text>SELE</text></g>
<g id="r12c7" transform="translate(508 400)"><circle r="5"/><text>PRKDC</text></g>
<g id="r12c8" transform="translate(543 400)"><circle r="5"/><text>ABCA1</text></g>
<g id="r12c9" transform="translate(577 400)"><circle r="5"/><text>SIX3</text></g>
<g id="r12c10" transform="translate(612 400)"><circle r="5"/><text>SLC18A2</text></g>
<g id="r12c11" transform="translate(646 400)"><circle r="5"/><text>POLA1</text></g>
<g id="r12c12" transform="translate(681 400)"><circle r="5"/><text>ADRB1</text></g>
<g id="r12c13" class="m" transform="translate(715 400)"><circle r="6.5"/><text>MCL1</text></g>
<g id="r12c14" class="m" transform="translate(750 400)"><circle r="6.5"/><text>TOP1</text></g>
<g id="r12c15" transform="translate(784 400)"><circle r="5"/><text>ADH1B</text></g>
<g id="r12c16" transform="translate(819 400)"><circle r="5"/><text>UGT1A1</text></g>
<g id="r12c17" transform="translate(853 400)"><circle r="5"/><text>CFTR</text></g>
<g id="r12c18" transform="translate(888 400)"><circle r="5"/><text>KCND3</text></g>
<g id="r12c19" class="m" transform="translate(922 400)"><circle r="6.5"/><text>CDK4</text></g>
<g id="r12c20" transform="translate(957 400)"><circle r="5"/><text>CHRNB2</text></g>
<g id="r12c21" transform="translate(991 400)"><circle r="5"/><text>ERBB3</text></g>
<g id="r12c22" transform="translate(1026 400)"><circle r="5"/><text>ALDH1A1</text></g>
<g id="r12c23" transform="translate(1060 400)"><circle r="5"/><text>CYP27B1</text></g>
<g id="r13c0" transform="translate(267 417)"><circle r="5"/><text>SOX11</text></g>
<g id="r13c1" transform="translate(301 417)"><circle r="5"/><text>ADH6</text></g>
<g id="r13c2" transform="translate(336 417)"><circle r="5"/><text>PAX5</text></g>
<g id="r13c3" transform="translate(370 417)"><circle r="5"/><text>ARRB2</text></g>
<g id="r13c4" transform="translate(405 417)"><circle r="5"/><text>MAPT</text></g>
<g id="r13c5" transform="translate(439 417)"><circle r="5"/><text>DNMT1</text></g>
<g id="r13c6" transform="translate(474 417)"><circle r="5"/><text>SFRP2</text></g>
<g id="r13c7" transform="translate(508 417)"><circle r="5"/><text>SF1</text></g>
<g id="r13c8" transform="translate(543 417)"><circle r="5"/><text>DRD3</text></g>
<g id="r13c9" class="m" transform="translate(577 417)"><circle r="6.5"/><text>APP</text></g>
<g id="r13c10" transform="translate(612 417)"><circle r="5"/><text>CA2</text></g>
<g id="r13c11" transform="translate(646 417)"><circle r="5"/><text>KDM1A</text></g>
<g id="r13c12" transform="translate(681 417)"><circle r="5"/><text>F10</text></g>
<g id="r13c13" transform="translate(715 417)"><circle r="5"/><text>DNM3</text></g>
<g id="r13c14" transform="translate(750 417)"><circle r="5"/><text>CACNA1I</text></g>
<g id="r13c15" class="m" transform="translate(784 417)"><circle r="6.5"/><text>MTTP</text></g>
<g id="r13c16" transform="translate(819 417)"><circle r="5"/><text>SHANK3</text></g>
<g id="r13c17" transform="translate(853 417)"><circle r="5"/><text>HELLS</text></g>
<g id="r13c18" transform="translate(888 417)"><circle r="5"/><text>KANK2</text></g>
<g id="r13c19" transform="translate(922 417)"><circle r="5"/><text>SLC12A7</text></g>
<g id="r13c20" transform="translate(957 417)"><circle r="5"/><text>IYD</text></g>
<g id="r13c21" transform="translate(991 417)"><circle r="5"/><text>CAV3</text></g>
<g id="r13c22" transform="translate(1026 417)"><circle r="5"/><text>DAB2IP</text></g>
<g id="r13c23" transform="translate(1060 417)"><circle r="5"/><text>RASSF1</text></g>
<g id="r14c0" transform="translate(267 435)"><circle r="5"/><text>GC</text></g>
<g id="r14c1" transform="translate(301 435)"><circle r="5"/><text>HTR5A</text></g>
<g id="r14c2" class="m" transform="translate(336 435)"><circle r="6.5"/><text>MAPK8</text></g>
<g id="r14c3" transform="translate(370 435)"><circle r="5"/><text>RAB3A</text></g>
<g id="r14c4" transform="translate(405 435)"><circle r="5"/><text>UCHL1</text></g>
<g id="r14c5" transform="translate(439 435)"><circle r="5"/><text>ACOX1</text></g>
<g id="r14c6" transform="translate(474 435)"><circle r="5"/><text>AIFM1</text></g>
<g id="r14c7" class="m" transform="translate(508 435)"><circle r="6.5"/><text>DRD2</text></g>
<g id="r14c8" transform="translate(543 435)"><circle r="5"/><text>COLQ</text></g>
<g id="r14c9" transform="translate(577 435)"><circle r="5"/><text>APOH</text></g>
<g id="r14c10" transform="translate(612 435)"><circle r="5"/><text>SDHC</text></g>
<g id="r14c11" transform="translate(646 435)"><circle r="5"/><text>CTNNB1</text></g>
<g id="r14c12" transform="translate(681 435)"><circle r="5"/><text>NR1H4</text></g>
<g id="r14c13" transform="translate(715 435)"><circle r="5"/><text>EPHB1</text></g>
<g id="r14c14" transform="translate(750 435)"><circle r="5"/><text>RLBP1</text></g>
<g id="r14c15" transform="translate(784 435)"><circle r="5"/><text>CA7</text></g>
<g id="r14c16" transform="translate(819 435)"><circle r="5"/><text>RNF207</text></g>
<g id="r14c17" transform="translate(853 435)"><circle r="5"/><text>SEC14L2</text></g>
<g id="r14c18" class="m" transform="translate(888 435)"><circle r="6.5"/><text>IFNG</text></g>
<g id="r14c19" transform="translate(922 435)"><circle r="5"/><text>TIMP1</text></g>
<g id="r14c20" transform="translate(957 435)"><circle r="5"/><text>LYRM4</text></g>
<g id="r14c21" transform="translate(991 435)"><circle r="5"/><text>JAK1</text></g>
<g id="r14c22" transform="translate(1026 435)"><circle r="5"/><text>ABCC2</text></g>
<g id="r14c23" transform="translate(1060 435)"><circle r="5"/><text>CHEK2</text></g>
<g id="r15c0" transform="translate(267 452)"><circle r="5"/><text>FADS2</text></g>
<g id="r15c1" transform="translate(301 452)"><circle r="5"/><text>MMP3</text></g>
<g id="r15c2" class="m" transform="translate(336 452)"><circle r="6.5"/><text>TYR</text></g>
<g id="r15c3" transform="translate(370 452)"><circle r="5"/><text>CACNA1G</text></g>
<g id="r15c4" class="m" transform="translate(405 452)"><circle r="6.5"/><text>CRP</text></g>
<g id="r15c5" transform="translate(439 452)"><circle r="5"/><text>CACNA1A</text></g>
<g id="r15c6" transform="translate(474 452)"><circle r="5"/><text>TPH1</text></g>
<g id="r15c7" transform="translate(508 452)"><circle r="5"/><text>KCNS3</text></g>
<g id="r15c8" transform="translate(543 452)"><circle r="5"/><text>KCNB1</text></g>
<g id="r15c9" transform="translate(577 452)"><circle r="5"/><text>AGRN</text></g>
<g id="r15c10" transform="translate(612 452)"><circle r="5"/><text>CALY</text></g>
<g id="r15c11" transform="translate(646 452)"><circle r="5"/><text>ABAT</text></g>
<g id="r15c12" class="m" transform="translate(681 452)"><circle r="6.5"/><text>AHSA1</text></g>
<g id="r15c13" transform="translate(715 452)"><circle r="5"/><text>MAOB</text></g>
<g id="r15c14" class="m" transform="translate(750 452)"><circle r="6.5"/><text>MED1</text></g>
<g id="r15c15" transform="translate(784 452)"><circle r="5"/><text>CACNA1B</text></g>
<g id="r15c16" transform="translate(819 452)"><circle r="5"/><text>CHRM3</text></g>
<g id="r15c17" class="m" transform="translate(853 452)"><circle r="6.5"/><text>HAS2</text></g>
<g id="r15c18" transform="translate(888 452)"><circle r="5"/><text>KCNB2</text></g>
<g id="r15c19" transform="translate(922 452)"><circle r="5"/><text>FADD</text></g>
<g id="r15c20" transform="translate(957 452)"><circle r="5"/><text>APOB</text></g>
<g id="r15c21" transform="translate(991 452)"><circle r="5"/><text>KCNA4</text></g>
<g id="r15c22" transform="translate(1026 452)"><circle r="5"/><text>ABHD5</text></g>
<g id="r15c23" transform="translate(1060 452)"><circle r="5"/><text>CALB1</text></g>
<g id="r16c0" transform="translate(267 469)"><circle r="5"/><text>SPHK2</text></g>
<g id="r16c1" transform="translate(301 469)"><circle r="5"/><text>DAB1</text></g>
<g id="r16c2" transform="translate(336 469)"><circle r="5"/><text>ACAD8</text></g>
<g id="r16c3" transform="translate(370 469)"><circle r="5"/><text>RNASE1</text></g>
<g id="r16c4" transform="translate(405 469)"><circle r="5"/><text>GSK3A</text></g>
<g id="r16c5" transform="translate(439 469)"><circle r="5"/><text>IVD</text></g>
<g id="r16c6" transform="translate(474 469)"><circle r="5"/><text>SLC10A6</text></g>
<g id="r16c7" transform="translate(508 469)"><circle r="5"/><text>ESRRG</text></g>
<g id="r16c8" transform="translate(543 469)"><circle r="5"/><text>ARAF</text></g>
<g id="r16c9" transform="translate(577 469)"><circle r="5"/><text>NPM1</text></g>
<g id="r16c10" transform="translate(612 469)"><circle r="5"/><text>COL1A2</text></g>
<g id="r16c11" transform="translate(646 469)"><circle r="5"/><text>PLIN5</text></g>
<g id="r16c12" class="l" transform="translate(681 469)"><circle r="8.5"/><text>TGFB1</text></g>
<g id="r16c13" transform="translate(715 469)"><circle r="5"/><text>CES1</text></g>
<g id="r16c14" transform="translate(750 469)"><circle r="5"/><text>ADH4</text></g>
<g id="r16c15" transform="translate(784 469)"><circle r="5"/><text>RDH12</text></g>
<g id="r16c16" transform="translate(819 469)"><circle r="5"/><text>CRYZ</text></g>
<g id="r16c17" transform="translate(853 469)"><circle r="5"/><text>FAS</text></g>
<g id="r16c18" transform="translate(888 469)"><circle r="5"/><text>INS</text></g>
<g id="r16c19" transform="translate(922 469)"><circle r="5"/><text>MDM2</text></g>
<g id="r16c20" transform="translate(957 469)"><circle r="5"/><text>CD40</text></g>
<g id="r16c21" transform="translate(991 469)"><circle r="5"/><text>MMAA</text></g>
<g id="r16c22" transform="translate(1026 469)"><circle r="5"/><text>KCNQ2</text></g>
<g id="r16c23" transform="translate(1060 469)"><circle r="5"/><text>ADRB3</text></g>
<g id="r17c0" transform="translate(267 487)"><circle r="5"/><text>NRXN2</text></g>
<g id="r17c1" transform="translate(301 487)"><circle r="5"/><text>CHRM1</text></g>
<g id="r17c2" transform="translate(336 487)"><circle r="5"/><text>SLC12A5</text></g>
<g id="r17c3" transform="translate(370 487)"><circle r="5"/><text>MDK</text></g>
<g id="r17c4" transform="translate(405 487)"><circle r="5"/><text>CDKN2A</text></g>
<g id="r17c5" transform="translate(439 487)"><circle r="5"/><text>SEC61B</text></g>
<g id="r17c6" transform="translate(474 487)"><circle r="5"/><text>ATP5F1B</text></g>
<g id="r17c7" transform="translate(508 487)"><circle r="5"/><text>PPP3CB</text></g>
<g id="r17c8" transform="translate(543 487)"><circle r="5"/><text>LIG4</text></g>
<g id="r17c9" transform="translate(577 487)"><circle r="5"/><text>MMACHC</text></g>
<g id="r17c10" transform="translate(612 487)"><circle r="5"/><text>CCL2</text></g>
<g id="r17c11" class="l" transform="translate(646 487)"><circle r="8.5"/><text>NFKBIA</text></g>
<g id="r17c12" transform="translate(681 487)"><circle r="5"/><text>SLPI</text></g>
<g id="r17c13" transform="translate(715 487)"><circle r="5"/><text>ELK1</text></g>
<g id="r17c14" transform="translate(750 487)"><circle r="5"/><text>AMN</text></g>
<g id="r17c15" class="m" transform="translate(784 487)"><circle r="6.5"/><text>SPP1</text></g>
<g id="r17c16" transform="translate(819 487)"><circle r="5"/><text>HSF1</text></g>
<g id="r17c17" transform="translate(853 487)"><circle r="5"/><text>SLC6A1</text></g>
<g id="r17c18" transform="translate(888 487)"><circle r="5"/><text>TCF3</text></g>
<g id="r17c19" transform="translate(922 487)"><circle r="5"/><text>CACNB3</text></g>
<g id="r17c20" transform="translate(957 487)"><circle r="5"/><text>PLA2G4A</text></g>
<g id="r17c21" transform="translate(991 487)"><circle r="5"/><text>CHUK</text></g>
<g id="r17c22" transform="translate(1026 487)"><circle r="5"/><text>SCN9A</text></g>
<g id="r17c23" class="m" transform="translate(1060 487)"><circle r="6.5"/><text>TNF</text></g>
<g id="r18c0" class="m" transform="translate(267 504)"><circle r="6.5"/><text>NCF1</text></g>
<g id="r18c1" class="m" transform="translate(301 504)"><circle r="6.5"/><text>PRKCB</text></g>
<g id="r18c2" transform="translate(336 504)"><circle r="5"/><text>KCNA1</text></g>
<g id="r18c3" transform="translate(370 504)"><circle r="5"/><text>DCK</text></g>
<g id="r18c4" class="m" transform="translate(405 504)"><circle r="6.5"/><text>CYP1A1</text></g>
<g id="r18c5" transform="translate(439 504)"><circle r="5"/><text>HSPA5</text></g>
<g id="r18c6" transform="translate(474 504)"><circle r="5"/><text>APOA2</text></g>
<g id="r18c7" class="m" transform="translate(508 504)"><circle r="6.5"/><text>NOS3</text></g>
<g id="r18c8" class="m" transform="translate(543 504)"><circle r="6.5"/><text>SOD1</text></g>
<g id="r18c9" transform="translate(577 504)"><circle r="5"/><text>CCNB1</text></g>
<g id="r18c10" transform="translate(612 504)"><circle r="5"/><text>ALDH1B1</text></g>
<g id="r18c11" transform="translate(646 504)"><circle r="5"/><text>DUOX2</text></g>
<g id="r18c12" transform="translate(681 504)"><circle r="5"/><text>FGFR2</text></g>
<g id="r18c13" transform="translate(715 504)"><circle r="5"/><text>ABCC4</text></g>
<g id="r18c14" transform="translate(750 504)"><circle r="5"/><text>LEP</text></g>
<g id="r18c15" transform="translate(784 504)"><circle r="5"/><text>SEC14L3</text></g>
<g id="r18c16" class="l" transform="translate(819 504)"><circle r="8.5"/><text>BCL2L1</text></g>
<g id="r18c17" transform="translate(853 504)"><circle r="5"/><text>PPARD</text></g>
<g id="r18c18" transform="translate(888 504)"><circle r="5"/><text>MAOA</text></g>
<g id="r18c19" transform="translate(922 504)"><circle r="5"/><text>ADRA2A</text></g>
<g id="r18c20" transform="translate(957 504)"><circle r="5"/><text>USP7</text></g>
<g id="r18c21" transform="translate(991 504)"><circle r="5"/><text>TBX3</text></g>
<g id="r18c22" transform="translate(1026 504)"><circle r="5"/><text>PTEN</text></g>
<g id="r18c23" transform="translate(1060 504)"><circle r="5"/><text>CUBN</text></g>
<g id="r19c0" transform="translate(267 522)"><circle r="5"/><text>BAD</text></g>
<g id="r19c1" transform="translate(301 522)"><circle r="5"/><text>ALDH3B1</text></g>
<g id="r19c2" class="m" transform="translate(336 522)"><circle r="6.5"/><text>E2F1</text></g>
<g id="r19c3" transform="translate(370 522)"><circle r="5"/><text>PLAU</text></g>
<g id="r19c4" transform="translate(405 522)"><circle r="5"/><text>GPBAR1</text></g>
<g id="r19c5" transform="translate(439 522)"><circle r="5"/><text>HTR1D</text></g>
<g id="r19c6" transform="translate(474 522)"><circle r="5"/><text>ADORA3</text></g>
<g id="r19c7" transform="translate(508 522)"><circle r="5"/><text>AQP1</text></g>
<g id="r19c8" transform="translate(543 522)"><circle r="5"/><text>RYR3</text></g>
<g id="r19c9" transform="translate(577 522)"><circle r="5"/><text>IGF2</text></g>
<g id="r19c10" transform="translate(612 522)"><circle r="5"/><text>DNMT3B</text></g>
<g id="r19c11" transform="translate(646 522)"><circle r="5"/><text>ADORA2A</text></g>
<g id="r19c12" class="m" transform="translate(681 522)"><circle r="6.5"/><text>CNR2</text></g>
<g id="r19c13" transform="translate(715 522)"><circle r="5"/><text>SCN4A</text></g>
<g id="r19c14" class="m" transform="translate(750 522)"><circle r="6.5"/><text>NKX3-1</text></g>
<g id="r19c15" class="m" transform="translate(784 522)"><circle r="6.5"/><text>MYC</text></g>
<g id="r19c16" transform="translate(819 522)"><circle r="5"/><text>ALDH1A2</text></g>
<g id="r19c17" transform="translate(853 522)"><circle r="5"/><text>KCNK4</text></g>
<g id="r19c18" class="l" transform="translate(888 522)"><circle r="8.5"/><text>BCL2</text></g>
<g id="r19c19" transform="translate(922 522)"><circle r="5"/><text>CLK1</text></g>
<g id="r19c20" transform="translate(957 522)"><circle r="5"/><text>PRLR</text></g>
<g id="r19c21" class="m" transform="translate(991 522)"><circle r="6.5"/><text>DIO1</text></g>
<g id="r19c22" class="m" transform="translate(1026 522)"><circle r="6.5"/><text>ICAM1</text></g>
<g id="r19c23" transform="translate(1060 522)"><circle r="5"/><text>P2RX1</text></g>
<g id="r20c0" transform="translate(267 539)"><circle r="5"/><text>RUNX2</text></g>
<g id="r20c1" transform="translate(301 539)"><circle r="5"/><text>KCNK2</text></g>
<g id="r20c2" transform="translate(336 539)"><circle r="5"/><text>POLG</text></g>
<g id="r20c3" transform="translate(370 539)"><circle r="5"/><text>SPARC</text></g>
<g id="r20c4" transform="translate(405 539)"><circle r="5"/><text>SLC12A4</text></g>
<g id="r20c5" transform="translate(439 539)"><circle r="5"/><text>CYP2B6</text></g>
<g id="r20c6" transform="translate(474 539)"><circle r="5"/><text>SLC44A4</text></g>
<g id="r20c7" transform="translate(508 539)"><circle r="5"/><text>CD40LG</text></g>
<g id="r20c8" transform="translate(543 539)"><circle r="5"/><text>ALDH7A1</text></g>
<g id="r20c9" transform="translate(577 539)"><circle r="5"/><text>KCNA6</text></g>
<g id="r20c10" transform="translate(612 539)"><circle r="5"/><text>PRKAB1</text></g>
<g id="r20c11" transform="translate(646 539)"><circle r="5"/><text>SHMT1</text></g>
<g id="r20c12" transform="translate(681 539)"><circle r="5"/><text>NQO2</text></g>
<g id="r20c13" transform="translate(715 539)"><circle r="5"/><text>TH</text></g>
<g id="r20c14" transform="translate(750 539)"><circle r="5"/><text>AQP9</text></g>
<g id="r20c15" class="m" transform="translate(784 539)"><circle r="6.5"/><text>F12</text></g>
<g id="r20c16" transform="translate(819 539)"><circle r="5"/><text>GPR143</text></g>
<g id="r20c17" transform="translate(853 539)"><circle r="5"/><text>SNW1</text></g>
<g id="r20c18" class="l" transform="translate(888 539)"><circle r="8.5"/><text>XDH</text></g>
<g id="r20c19" transform="translate(922 539)"><circle r="5"/><text>STAT1</text></g>
<g id="r20c20" transform="translate(957 539)"><circle r="5"/><text>ZP3</text></g>
<g id="r20c21" transform="translate(991 539)"><circle r="5"/><text>KCND2</text></g>
<g id="r20c22" transform="translate(1026 539)"><circle r="5"/><text>CDK2</text></g>
<g id="r20c23" transform="translate(1060 539)"><circle r="5"/><text>PRKACA</text></g>
<g id="r21c0" transform="translate(267 556)"><circle r="5"/><text>KCNIP2</text></g>
<g id="r21c1" transform="translate(301 556)"><circle r="5"/><text>AMH</text></g>
<g id="r21c2" transform="translate(336 556)"><circle r="5"/><text>CETN2</text></g>
<g id="r21c3" transform="translate(370 556)"><circle r="5"/><text>CHRNA4</text></g>
<g id="r21c4" transform="translate(405 556)"><circle r="5"/><text>SCN5A</text></g>
<g id="r21c5" class="m" transform="translate(439 556)"><circle r="6.5"/><text>VCAM1</text></g>
<g id="r21c6" transform="translate(474 556)"><circle r="5"/><text>SLC6A4</text></g>
<g id="r21c7" transform="translate(508 556)"><circle r="5"/><text>KCNC3</text></g>
<g id="r21c8" transform="translate(543 556)"><circle r="5"/><text>PPP2CA</text></g>
<g id="r21c9" transform="translate(577 556)"><circle r="5"/><text>CASP7</text></g>
<g id="r21c10" class="l" transform="translate(612 556)"><circle r="8.5"/><text>TP53</text></g>
<g id="r21c11" class="m" transform="translate(646 556)"><circle r="6.5"/><text>ERBB2</text></g>
<g id="r21c12" transform="translate(681 556)"><circle r="5"/><text>HIF1A</text></g>
<g id="r21c13" transform="translate(715 556)"><circle r="5"/><text>ASPA</text></g>
<g id="r21c14" transform="translate(750 556)"><circle r="5"/><text>CETP</text></g>
<g id="r21c15" transform="translate(784 556)"><circle r="5"/><text>GSK3B</text></g>
<g id="r21c16" transform="translate(819 556)"><circle r="5"/><text>UCP2</text></g>
<g id="r21c17" transform="translate(853 556)"><circle r="5"/><text>SERPINE1</text></g>
<g id="r21c18" transform="translate(888 556)"><circle r="5"/><text>HTR2A</text></g>
<g id="r21c19" transform="translate(922 556)"><circle r="5"/><text>KCNJ11</text></g>
<g id="r21c20" transform="translate(957 556)"><circle r="5"/><text>NR3C2</text></g>
<g id="r21c21" class="m" transform="translate(991 556)"><circle r="6.5"/><text>IL1B</text></g>
<g id="r21c22" transform="translate(1026 556)"><circle r="5"/><text>GCDH</text></g>
<g id="r21c23" transform="translate(1060 556)"><circle r="5"/><text>DHRS3</text></g>
<g id="r22c0" transform="translate(267 574)"><circle r="5"/><text>ALDH2</text></g>
<g id="r22c1" transform="translate(301 574)"><circle r="5"/><text>OPRD1</text></g>
<g id="r22c2" transform="translate(336 574)"><circle r="5"/><text>POR</text></g>
<g id="r22c3" transform="translate(370 574)"><circle r="5"/><text>CALCA</text></g>
<g id="r22c4" transform="translate(405 574)"><circle r="5"/><text>ADRA1A</text></g>
<g id="r22c5" class="m" transform="translate(439 574)"><circle r="6.5"/><text>SOAT2</text></g>
<g id="r22c6" transform="translate(474 574)"><circle r="5"/><text>IRF1</text></g>
<g id="r22c7" transform="translate(508 574)"><circle r="5"/><text>CYR61</text></g>
<g id="r22c8" transform="translate(543 574)"><circle r="5"/><text>PAPPA</text></g>
<g id="r22c9" transform="translate(577 574)"><circle r="5"/><text>NFE2L2</text></g>
<g id="r22c10" transform="translate(612 574)"><circle r="5"/><text>MSLN</text></g>
<g id="r22c11" transform="translate(646 574)"><circle r="5"/><text>RNASE2</text></g>
<g id="r22c12" transform="translate(681 574)"><circle r="5"/><text>PLB1</text></g>
<g id="r22c13" transform="translate(715 574)"><circle r="5"/><text>ADORA2B</text></g>
<g id="r22c14" transform="translate(750 574)"><circle r="5"/><text>NR5A1</text></g>
<g id="r22c15" transform="translate(784 574)"><circle r="5"/><text>RBP3</text></g>
<g id="r22c16" transform="translate(819 574)"><circle r="5"/><text>CETN1</text></g>
<g id="r22c17" transform="translate(853 574)"><circle r="5"/><text>SHH</text></g>
<g id="r22c18" transform="translate(888 574)"><circle r="5"/><text>POLD1</text></g>
<g id="r22c19" transform="translate(922 574)"><circle r="5"/><text>PNP</text></g>
<g id="r22c20" transform="translate(957 574)"><circle r="5"/><text>RAPGEF2</text></g>
<g id="r22c21" class="m" transform="translate(991 574)"><circle r="6.5"/><text>CDK1</text></g>
<g id="r22c22" transform="translate(1026 574)"><circle r="5"/><text>ACADM</text></g>
<g id="r22c23" class="l" transform="translate(1060 574)"><circle r="8.5"/><text>RELA</text></g>
<g id="r23c0" transform="translate(267 591)"><circle r="5"/><text>PPP2CB</text></g>
<g id="r23c1" transform="translate(301 591)"><circle r="5"/><text>HSD3B1</text></g>
<g id="r23c2" transform="translate(336 591)"><circle r="5"/><text>GRIN2A</text></g>
<g id="r23c3" transform="translate(370 591)"><circle r="5"/><text>CAV1</text></g>
<g id="r23c4" transform="translate(405 591)"><circle r="5"/><text>MIP</text></g>
<g id="r23c5" transform="translate(439 591)"><circle r="5"/><text>TCAF1</text></g>
<g id="r23c6" transform="translate(474 591)"><circle r="5"/><text>GUCY1B3</text></g>
<g id="r23c7" transform="translate(508 591)"><circle r="5"/><text>CYP24A1</text></g>
<g id="r23c8" transform="translate(543 591)"><circle r="5"/><text>DMTN</text></g>
<g id="r23c9" transform="translate(577 591)"><circle r="5"/><text>DDC</text></g>
<g id="r23c10" transform="translate(612 591)"><circle r="5"/><text>ANKK1</text></g>
<g id="r23c11" transform="translate(646 591)"><circle r="5"/><text>TYRP1</text></g>
<g id="r23c12" transform="translate(681 591)"><circle r="5"/><text>IFI30</text></g>
<g id="r23c13" class="l" transform="translate(715 591)"><circle r="8.5"/><text>MMP9</text></g>
<g id="r23c14" transform="translate(750 591)"><circle r="5"/><text>TRPM8</text></g>
<g id="r23c15" transform="translate(784 591)"><circle r="5"/><text>RDH14</text></g>
<g id="r23c16" class="l" transform="translate(819 591)"><circle r="8.5"/><text>CASP9</text></g>
<g id="r23c17" transform="translate(853 591)"><circle r="5"/><text>CYGB</text></g>
<g id="r23c18" class="m" transform="translate(888 591)"><circle r="6.5"/><text>IL6</text></g>
<g id="r23c19" transform="translate(922 591)"><circle r="5"/><text>AR</text></g>
<g id="r23c20" transform="translate(957 591)"><circle r="5"/><text>NFE2</text></g>
<g id="r23c21" transform="translate(991 591)"><circle r="5"/><text>LEF1</text></g>
<g id="r23c22" transform="translate(1026 591)"><circle r="5"/><text>GLRA1</text></g>
<g id="r23c23" transform="translate(1060 591)"><circle r="5"/><text>ABCC3</text></g>
<g id="r24c0" transform="translate(267 608)"><circle r="5"/><text>CDK6</text></g>
<g id="r24c1" transform="translate(301 608)"><circle r="5"/><text>ACY3</text></g>
<g id="r24c2" transform="translate(336 608)"><circle r="5"/><text>ACADS</text></g>
<g id="r24c3" transform="translate(370 608)"><circle r="5"/><text>CXCL10</text></g>
<g id="r24c4" transform="translate(405 608)"><circle r="5"/><text>RDH5</text></g>
<g id="r24c5" transform="translate(439 608)"><circle r="5"/><text>KCNA10</text></g>
<g id="r24c6" transform="translate(474 608)"><circle r="5"/><text>FXYD1</text></g>
<g id="r24c7" transform="translate(508 608)"><circle r="5"/><text>RXRA</text></g>
<g id="r24c8" class="m" transform="translate(543 608)"><circle r="6.5"/><text>PON1</text></g>
<g id="r24c9" transform="translate(577 608)"><circle r="5"/><text>KCNG1</text></g>
<g id="r24c10" transform="translate(612 608)"><circle r="5"/><text>UHRF1</text></g>
<g id="r24c11" transform="translate(646 608)"><circle r="5"/><text>DAGLA</text></g>
<g id="r24c12" transform="translate(681 608)"><circle r="5"/><text>HTR2B</text></g>
<g id="r24c13" transform="translate(715 608)"><circle r="5"/><text>SUMO1</text></g>
<g id="r24c14" class="m" transform="translate(750 608)"><circle r="6.5"/><text>PTGS1</text></g>
<g id="r24c15" transform="translate(784 608)"><circle r="5"/><text>PPARGC1B</text></g>
<g id="r24c16" transform="translate(819 608)"><circle r="5"/><text>DCAF5</text></g>
<g id="r24c17" transform="translate(853 608)"><circle r="5"/><text>NOS1</text></g>
<g id="r24c18" transform="translate(888 608)"><circle r="5"/><text>CXCL2</text></g>
<g id="r24c19" transform="translate(922 608)"><circle r="5"/><text>MGAM</text></g>
<g id="r24c20" transform="translate(957 608)"><circle r="5"/><text>TACR2</text></g>
<g id="r24c21" class="m" transform="translate(991 608)"><circle r="6.5"/><text>NR1I2</text></g>
<g id="r24c22" transform="translate(1026 608)"><circle r="5"/><text>C1R</text></g>
<g id="r24c23" transform="translate(1060 608)"><circle r="5"/><text>RASA1</text></g>
<g id="r25c0" transform="translate(267 626)"><circle r="5"/><text>ATP1A1</text></g>
<g id="r25c1" transform="translate(301 626)"><circle r="5"/><text>CNR1</text></g>
<g id="r25c2" transform="translate(336 626)"><circle r="5"/><text>GAD1</text></g>
<g id="r25c3" transform="translate(370 626)"><circle r="5"/><text>SLC2A2</text></g>
<g id="r25c4" transform="translate(405 626)"><circle r="5"/><text>CYP17A1</text></g>
<g id="r25c5" transform="translate(439 626)"><circle r="5"/><text>CACNA1H</text></g>
<g id="r25c6" class="l" transform="translate(474 626)"><circle r="8.5"/><text>AKT1</text></g>
<g id="r25c7" transform="translate(508 626)"><circle r="5"/><text>FXYD2</text></g>
<g id="r25c8" transform="translate(543 626)"><circle r="5"/><text>PTGER3</text></g>
<g id="r25c9" transform="translate(577 626)"><circle r="5"/><text>ADAM17</text></g>
<g id="r25c10" transform="translate(612 626)"><circle r="5"/><text>KCNMA1</text></g>
<g id="r25c11" transform="translate(646 626)"><circle r="5"/><text>THRB</text></g>
<g id="r25c12" transform="translate(681 626)"><circle r="5"/><text>C3</text></g>
<g id="r25c13" transform="translate(715 626)"><circle r="5"/><text>PTGER1</text></g>
<g id="r25c14" transform="translate(750 626)"><circle r="5"/><text>POLB</text></g>
</g>
<g id="compounds">
<g id="c-quercetin" class="cy" transform="translate(506 134)"><use href="#v" transform="scale(1.6)"/><text style="font-size:10px">Quercetin</text></g>
<g id="c-kaempferol" class="cy" transform="translate(818 133)"><use href="#v"/><text style="font-size:5.5px">Kaempferol</text></g>
<g id="c-luteolin" class="cy" transform="translate(1119 313)"><use href="#v" transform="scale(1.25)"/><text style="font-size:8px">Luteolin</text></g>
<g id="c-formononetin" class="cy" transform="translate(209 312)"><use href="#v"/><text style="font-size:6.5px">Formononetin</text></g>
<g id="c-betasitosterol" class="cy" transform="translate(209 483)"><use href="#v"/><text style="font-size:6px">Beta Sitosterol</text></g>
<g id="c-ntrans" class="cy" transform="translate(1120 485)"><use href="#v" transform="scale(.7)"/><text style="font-size:5.2px">N-Trans-Feruloyltyramine</text></g>
<g id="c-isorhamnetin" class="yw" transform="translate(405 35)"><use href="#v" transform="scale(.5)"/><text style="font-size:5px">Isorhamnetin</text></g>
<g id="c-isoimperatorin" class="yw" transform="translate(57 353)"><use href="#v" transform="scale(.55)"/><text style="font-size:4.6px">Isoimperatorin</text></g>
<g id="c-tanshinone" class="yw" transform="translate(32 390)"><use href="#v" transform="scale(.9)"/><text style="font-size:6.3px">Tanshinone IIa</text></g>
<g id="c-cryptotanshinone" class="yw" transform="translate(58 420)"><use href="#v" transform="scale(.7)"/><text style="font-size:5.4px">Cryptotanshinone</text></g>
<g id="c-naringenin" class="yw" transform="translate(1237 236)"><use href="#v" transform="scale(.7)"/><text style="font-size:6px">Naringenin</text></g>
<g id="c-nobiletin" class="yw" transform="translate(1237 311)"><use href="#v" transform="scale(.6)"/><text style="font-size:5.5px">Nobiletin</text></g>
<g id="c-eriol" class="yw" transform="translate(1245 457)"><use href="#v" transform="scale(.6)"/><text style="font-size:5.5px">Eriol</text></g>
<g id="c-arachidonic" class="yw" transform="translate(1258 502)"><use href="#v" transform="scale(.8)"/><text x="-5" style="font-size:6.3px">Arachidonic A</text></g>
<g id="c-glycitein" class="yw" transform="translate(1245 544)"><use href="#v" transform="scale(.6)"/><text style="font-size:5px">Glycitein</text></g>
<g id="c-citreorosein" class="yw" transform="translate(402 717)"><use href="#v" transform="scale(.5)"/><text style="font-size:5px">Citreorosein</text></g>
<g id="c-chrysarobin" class="yw" transform="translate(484 717)"><use href="#v" transform="scale(.5)"/><text style="font-size:5px">Chrysarobin</text></g>
<g id="c-questin" class="yw" transform="translate(415 727)"><use href="#v" transform="scale(.55)"/><text style="font-size:5.3px">Questin</text></g>
<g id="c-tetrahydroxy" class="yw" transform="translate(465 727)"><use href="#v" transform="scale(.6)"/><text style="font-size:5px">Tetrahydroxyanthracene</text></g>
<g id="c-emodinanthrone" class="yw" transform="translate(385 738)"><use href="#v" transform="scale(.85)"/><text style="font-size:6.6px">Emodin Anthrone</text></g>
<g id="c-physcion" class="yw" transform="translate(442 742)"><use href="#v" transform="scale(.6)"/><text style="font-size:5.5px">Physcion</text></g>
<g id="c-emodin" class="yw" transform="translate(507 738)"><use href="#v" transform="scale(.85)"/><text style="font-size:7px">Emodin</text></g>
<g id="c-gammasitosterol" class="yw" transform="translate(406 752)"><use href="#v" transform="scale(.85)"/><text style="font-size:6.5px">Gamma Sitosterol</text></g>
<g id="c-polygalacic" class="yw" transform="translate(478 752)"><use href="#v" transform="scale(.85)"/><text style="font-size:6.3px">Polygalacic Acid</text></g>
<g id="c-polygodial" class="yw" transform="translate(443 758)"><use href="#v" transform="scale(.75)"/><text style="font-size:6.3px">Polygodial</text></g>
<g id="c-resveratrol" class="yw" transform="translate(402 773)"><use href="#v" transform="scale(.95)"/><text style="font-size:7px">Resveratrol</text></g>
<g id="c-feldine" class="yw" transform="translate(427 770)"><use href="#v" transform="scale(.75)"/><text style="font-size:5.8px">Feldine</text></g>
<g id="c-chrysophanol" class="yw" transform="translate(466 769)"><use href="#v" transform="scale(.85)"/><text style="font-size:6.3px">Chrysophanol</text></g>
<g id="c-chrysazin" class="yw" transform="translate(442 787)"><use href="#v" transform="scale(.9)"/><text style="font-size:6.6px">Chrysazin</text></g>
<g id="c-rhein" class="yw" transform="translate(483 783)"><use href="#v" transform="scale(.75)"/><text style="font-size:6.5px">Rhein</text></g>
<g id="c-aluminium" class="yw" transform="translate(593 771)"><use href="#v" transform="scale(.5)"/><text style="font-size:4.8px">Aluminium</text></g>
<g id="c-silicon" class="yw" transform="translate(692 771)"><use href="#v" transform="scale(.5)"/><text style="font-size:4.5px">Silicon</text></g>
<g id="c-cacarbonate" class="yw" transform="translate(620 791)"><use href="#v" transform="scale(.6)"/><text style="font-size:5px">Calcium Carbonate</text></g>
<g id="c-caphosphate" class="yw" transform="translate(672 791)"><use href="#v" transform="scale(.7)"/><text style="font-size:6.3px">Calcium Phosphate</text></g>
<g id="c-casulphate" class="yw" transform="translate(645 806)"><use href="#v" transform="scale(.6)"/><text style="font-size:6px">Calcium Sulphate</text></g>
<g id="c-mopa" class="yw" transform="translate(816 728)"><use href="#v" transform="scale(.65)"/><text style="font-size:5.3px">Methyl Ophiopogonanone A</text></g>
<g id="c-aldehydo" class="yw" transform="translate(909 728)"><use href="#v" transform="scale(.6)"/><text style="font-size:4.7px">6-Aldehydo-Isoophiopogonone B</text></g>
<g id="c-ophd" class="yw" transform="translate(792 740)"><use href="#v" transform="scale(.6)"/><text style="font-size:4.9px">Ophiopogonin D</text></g>
<g id="c-opha" class="yw" transform="translate(837 740)"><use href="#v" transform="scale(.6)"/><text style="font-size:4.9px">Ophiopogonin A</text></g>
<g id="c-ophb2" class="yw" transform="translate(883 740)"><use href="#v" transform="scale(.55)"/><text style="font-size:4.9px">Ophiopogon B</text></g>
<g id="c-ophoneb" class="yw" transform="translate(929 740)"><use href="#v" transform="scale(.6)"/><text style="font-size:4.9px">Ophiopogonone B</text></g>
<g id="c-fisetin" class="yw" transform="translate(758 750)"><use href="#v" transform="scale(.85)"/><text style="font-size:6.8px">Fisetin</text></g>
<g id="c-ophna" class="yw" transform="translate(802 752)"><use href="#v" transform="scale(.75)"/><text style="font-size:5.8px">Ophiopogonanone A</text></g>
<g id="c-ophnc" class="yw" transform="translate(863 752)"><use href="#v" transform="scale(.75)"/><text style="font-size:5.8px">Ophiopogonanone C</text></g>
<g id="c-ophb" class="yw" transform="translate(917 752)"><use href="#v" transform="scale(.6)"/><text style="font-size:4.9px">Ophiopogonin B</text></g>
<g id="c-ophc" class="yw" transform="translate(828 763)"><use href="#v" transform="scale(.55)"/><text style="font-size:4.9px">Ophiopogonin C</text></g>
<g id="c-opha2" class="yw" transform="translate(897 763)"><use href="#v" transform="scale(.55)"/><text style="font-size:4.9px">Ophiopogon A</text></g>
<g id="c-uridine" class="yw" transform="translate(777 770)"><use href="#v" transform="scale(.9)"/><text style="font-size:7px">Uridine</text></g>
<g id="c-orchinol" class="yw" transform="translate(863 770)"><use href="#v" transform="scale(.9)"/><text style="font-size:7px">Orchinol</text></g>
<g id="c-stigmasterol" class="yw" transform="translate(963 769)"><use href="#v" transform="scale(1.15)"/><text style="font-size:7px">Stigmasterol</text></g>
<g id="c-guanosine" class="yw" transform="translate(808 780)"><use href="#v" transform="scale(.85)"/><text style="font-size:6.8px">Guanosine</text></g>
<g id="c-ophne" class="yw" transform="translate(925 779)"><use href="#v" transform="scale(.9)"/><text style="font-size:6.8px">Ophiopogonanone E</text></g>
<g id="c-mopb" class="yw" transform="translate(864 795)"><use href="#v"/><text style="font-size:6.8px">Methyl Ophiopogonanone B</text></g>
</g>
<g id="herbs">
<g id="h-HQ" class="hb" transform="translate(404 90)"><use href="#dm"/><text>HQ</text></g>
<g id="h-DS2" class="hb" transform="translate(575 38)"><use href="#dm"/><text>DS2</text></g>
<g id="h-YYH" class="hb" transform="translate(742 38)"><use href="#dm"/><text>YYH</text></g>
<g id="h-GG" class="hb" transform="translate(921 92)"><use href="#dm"/><text>GG</text></g>
<g id="h-DG" class="hb" transform="translate(144 277)"><use href="#dm"/><text>DG</text></g>
<g id="h-DS1" class="hb" transform="translate(103 389)"><use href="#dm"/><text>DS1</text></g>
<g id="h-ZJC" class="hb" transform="translate(144 502)"><use href="#dm"/><text>ZJC</text></g>
<g id="h-ZS" class="hb" transform="translate(1190 277)"><use href="#dm"/><text>ZS</text></g>
<g id="h-HZ" class="hb" transform="translate(1237 389)"><use href="#dm"/><text>HZ</text></g>
<g id="h-KB" class="hb" transform="translate(1190 502)"><use href="#dm"/><text>KB</text></g>
<g id="h-HSW" class="hb" transform="translate(441 695)"><use href="#dm"/><text>HSW</text></g>
<g id="h-ML" class="hb" transform="translate(646 750)"><use href="#dm"/><text>ML</text></g>
<g id="h-MD" class="hb" transform="translate(865 695)"><use href="#dm"/><text>MD</text></g>
</g>
</svg>
